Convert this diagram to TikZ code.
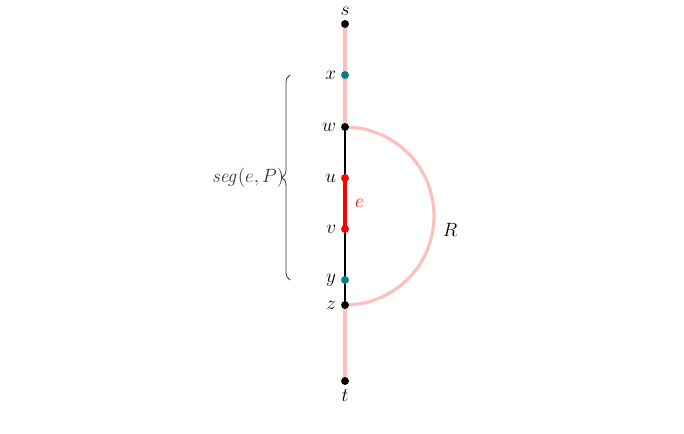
\documentclass[tikz,border=0pt]{standalone}
\usepackage{amsmath,amssymb}
\usetikzlibrary{
		calc,
		decorations.pathreplacing,
		positioning
	}
\tikzset{
		>=stealth,
		vtx/.style={circle,fill,inner sep=2.1pt},
		pathpink/.style={red!25,line width=2.4pt},
		lbl/.style={font=\fontsize{14}{16}\selectfont}
	}

\begin{document}
\begin{tikzpicture}[x=0.75pt,y=0.75pt,lbl]
          \useasboundingbox (0,0) rectangle (684,433);
          \coordinate (S) at (345,409);
          \coordinate (X) at (345,358);
          \coordinate (W) at (345,306);
          \coordinate (U) at (345,255);
          \coordinate (V) at (345,204);
          \coordinate (Y) at (345,153);
          \coordinate (Z) at (345,128);
          \coordinate (T) at (345,52);
          \coordinate (Rlbl) at (450,203);

          \draw[pathpink] (S) -- (W);
          \draw[pathpink] (Z) -- (T);
          \draw[pathpink] (W) arc[start angle=90,end angle=-90,radius=89];
          \node (r) at (Rlbl) {$R$};
          \draw[black,line width=1.2pt] (W) -- (U);
          \draw[black,line width=1.2pt] (V) -- (Z);
          \draw[red,line width=2.4pt] (U) -- (V) node[midway,right=3pt]{$e$};

          \node[vtx,label={[lbl]above:$s$}] (s) at (S) {};
          \node[vtx,teal,label={[lbl,black]left:$x$}] (x) at (X) {};
          \node[vtx,label={[lbl]left:$w$}] (w) at (W) {};
          \node[vtx,red,label={[lbl,black]left:$u$}] (u) at (U) {};
          \node[vtx,red,label={[lbl,black]left:$v$}] (v) at (V) {};
          \node[vtx,teal,label={[lbl,black]left:$y$}] (y) at (Y) {};
          \node[vtx,label={[lbl]left:$z$}] (z) at (Z) {};
          \node[vtx,label={[lbl]below:$t$}] (t) at (T) {};

          \draw[black!80,line width=0.6pt,decorate,decoration={brace,amplitude=6pt}]
               (290,153) -- (290,358) node[midway,left=4pt,inner sep=0pt]{$\mathit{seg}(e,P)$};

          \end{tikzpicture}
\end{document}
